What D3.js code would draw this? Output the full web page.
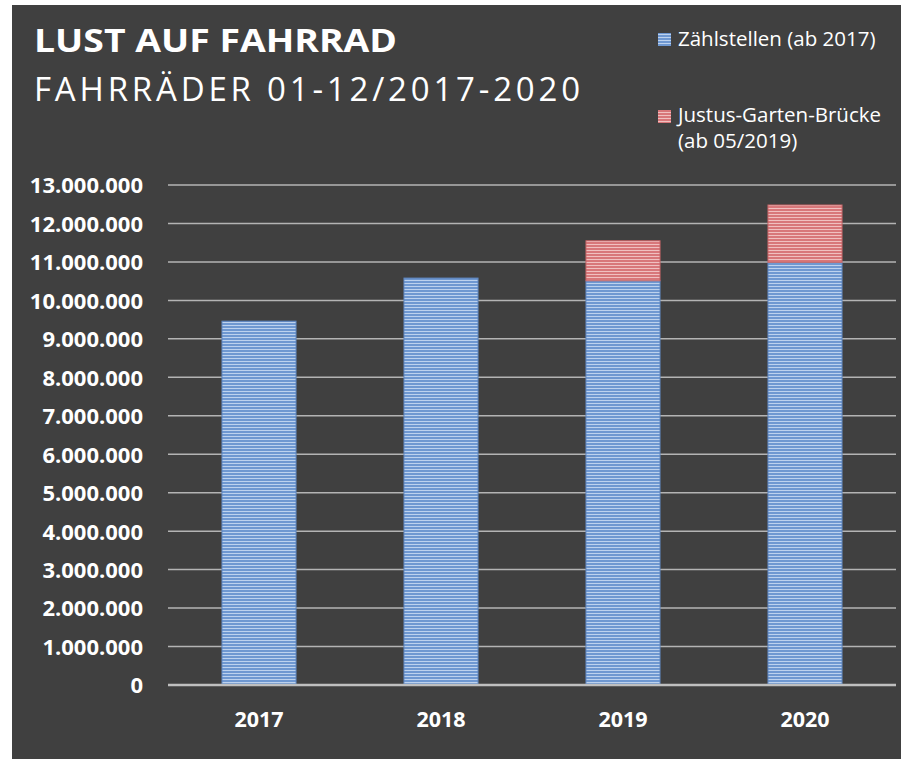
<!DOCTYPE html>
<html><head><meta charset="utf-8">
<script src="https://cdn.jsdelivr.net/npm/d3@7"></script>
<style>html,body{margin:0;padding:0;background:#fff;}svg{display:block;}</style>
</head><body>
<script>
const years = ["2017","2018","2019","2020"];
const zaehlstellen = [9460000, 10580000, 10510000, 10990000];
const justus = [0, 0, 1040000, 1490000];
const seriesNames = ["Zählstellen (ab 2017)", "Justus-Garten-Brücke"];
const yTicks = [0,1000000,2000000,3000000,4000000,5000000,6000000,7000000,8000000,9000000,10000000,11000000,12000000,13000000];

const W = 901, H = 759;
const svg = d3.select("body").append("svg").attr("width", W).attr("height", H);
const defs = svg.append("defs");
function stripe(id, base, light){
  const p = defs.append("pattern").attr("id", id).attr("patternUnits","userSpaceOnUse")
    .attr("width", 8).attr("height", 3);
  p.append("rect").attr("width", 8).attr("height", 3).attr("fill", base);
  p.append("rect").attr("y", 1).attr("width", 8).attr("height", 1).attr("fill", light);
}
stripe("pb", "#6f98d1", "#bdd2ee");
stripe("pr", "#d8777a", "#f0c0c0");

svg.append("rect").attr("x", 12).attr("y", 5).attr("width", W-12).attr("height", H-5).attr("fill", "#404040");

const font = "'Open Sans', 'Noto Sans', sans-serif";
const pL = 168, pR = 896, pT = 185, pB = 685;
const x = d3.scaleBand().domain(years).range([pL, pR]).paddingInner(0.593).paddingOuter(0.2965);
const y = d3.scaleLinear().domain([0, 13000000]).range([pB, pT]);

// gridlines
svg.append("g").selectAll("line").data(yTicks.filter(d => d > 0)).join("line")
  .attr("x1", pL).attr("x2", pR)
  .attr("y1", d => y(d)).attr("y2", d => y(d))
  .attr("stroke", "#b4b4b4").attr("stroke-width", 1.5);

// y axis labels
const fmt = d => d3.format(",")(d).replace(/,/g, ".");
const yAxis = d3.axisLeft(y).tickValues(yTicks).tickFormat(fmt).tickSize(0).tickPadding(0);
const gy = svg.append("g").attr("transform", `translate(143,0)`).call(yAxis);
gy.select(".domain").remove();
gy.selectAll("text").attr("fill", "#ffffff").attr("font-family", font)
  .attr("font-weight", "bold").attr("font-size", 22).attr("dy", "0.36em");

// bars
const stacked = years.map((yr, i) => ({yr, a: zaehlstellen[i], b: justus[i]}));
const gb = svg.append("g");
gb.selectAll("rect.a").data(stacked).join("rect").attr("class","a")
  .attr("x", d => x(d.yr)).attr("width", x.bandwidth())
  .attr("y", d => y(d.a)).attr("height", d => y(0) - y(d.a))
  .attr("fill", "url(#pb)").attr("stroke", "#5f86bf").attr("stroke-width", 1);
gb.selectAll("rect.b").data(stacked.filter(d => d.b > 0)).join("rect").attr("class","b")
  .attr("x", d => x(d.yr)).attr("width", x.bandwidth())
  .attr("y", d => y(d.a + d.b)).attr("height", d => y(d.a) - y(d.a + d.b))
  .attr("fill", "url(#pr)").attr("stroke", "#c56466").attr("stroke-width", 1);

// zero axis line
svg.append("line").attr("x1", pL).attr("x2", pR).attr("y1", y(0)).attr("y2", y(0))
  .attr("stroke", "#bfbfbf").attr("stroke-width", 2.5);

// x axis
const xAxis = d3.axisBottom(x).tickSize(0).tickPadding(0);
const gx = svg.append("g").attr("transform", `translate(0,${pB})`).call(xAxis);
gx.select(".domain").remove();
gx.selectAll("text").attr("fill", "#ffffff").attr("font-family", font)
  .attr("font-weight", "bold").attr("font-size", 21.5).attr("dy", "0").attr("y", 42);

// titles
svg.append("text").attr("x", 34).attr("y", 52).text("LUST AUF FAHRRAD")
  .attr("fill", "#ffffff").attr("font-family", font).attr("font-weight", "bold")
  .attr("font-size", 33).attr("textLength", 363).attr("lengthAdjust", "spacingAndGlyphs");
svg.append("text").attr("x", 34).attr("y", 101).text("FAHRRÄDER 01-12/2017-2020")
  .attr("fill", "#ffffff").attr("font-family", font).attr("font-weight", 400)
  .attr("font-size", 33).attr("textLength", 546).attr("lengthAdjust", "spacing");

// legend
const lg = svg.append("g").attr("font-family", font).attr("fill", "#ffffff").attr("font-size", 20.5);
lg.append("rect").attr("x", 658).attr("y", 33).attr("width", 13).attr("height", 13).attr("fill", "url(#pb)");
lg.append("text").attr("x", 678).attr("y", 46).text(seriesNames[0]).attr("fill", "#ffffff");
lg.append("rect").attr("x", 658).attr("y", 110).attr("width", 13).attr("height", 13).attr("fill", "url(#pr)");
lg.append("text").attr("x", 678).attr("y", 122).text(seriesNames[1]).attr("fill", "#ffffff");
lg.append("text").attr("x", 678).attr("y", 148).text("(ab 05/2019)").attr("fill", "#ffffff");
</script>
</body></html>
